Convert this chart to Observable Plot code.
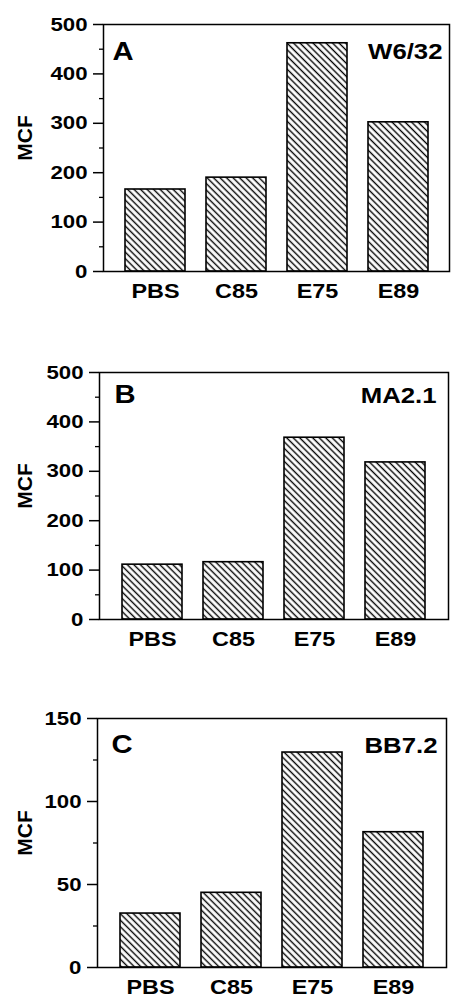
<!DOCTYPE html>
<html><head><meta charset="utf-8">
<script src="https://cdn.jsdelivr.net/npm/d3@7"></script>
<script src="https://cdn.jsdelivr.net/npm/@observablehq/plot@0.6"></script>
<style>
body{margin:0;background:#fff;width:451px;}
#chart svg{display:block}
</style>
</head><body>
<svg width="0" height="0" style="position:absolute">
  <defs>
    <pattern id="hatch" patternUnits="userSpaceOnUse" width="10" height="4.6" patternTransform="rotate(45)">
      <rect width="10" height="4.6" fill="#fff"/>
      <line x1="0" y1="2.3" x2="10" y2="2.3" stroke="#000" stroke-width="1.4"/>
    </pattern>
  </defs>
</svg>
<div id="chart"></div>
<script>
// ---- data ----
const categories = ["PBS", "C85", "E75", "E89"];
const valuesA = [166, 190, 462, 302];
const valuesB = [111, 116, 368, 318];
const valuesC = [32.5, 45, 129.5, 81.5];
const panelLetters = ["A", "B", "C"];
const antibodies = ["W6/32", "MA2.1", "BB7.2"];
const yMax = [500, 500, 150];
const majorTicksA = [0, 100, 200, 300, 400, 500];
const minorTicksA = [50, 150, 250, 350, 450];
const majorTicksB = [0, 100, 200, 300, 400, 500];
const minorTicksB = [50, 150, 250, 350, 450];
const majorTicksC = [0, 50, 100, 150];
const minorTicksC = [25, 75, 125];
const yLabel = "MCF";

// ---- layout ----
const layout = [
  {height: 330, mt: 24, mb: 59, ml: 103, mr: 2, lDx: 9, lDy: 18, aDx: -7, aDy: 19},
  {height: 330, mt: 42, mb: 41, ml: 99, mr: 3, lDx: 15, lDy: 13, aDx: -12, aDy: 15},
  {height: 336, mt: 58, mb: 29, ml: 97, mr: 5, lDx: 14, lDy: 17, aDx: -9, aDy: 19}
];
const panels = [
  {values: valuesA, major: majorTicksA, minor: minorTicksA},
  {values: valuesB, major: majorTicksB, minor: minorTicksB},
  {values: valuesC, major: majorTicksC, minor: minorTicksC}
];
const FONT = "'Liberation Sans', Arial, Helvetica, sans-serif";
const container = document.getElementById("chart");

panels.forEach((p, i) => {
  const L = layout[i];
  const data = categories.map((c, j) => ({cat: c, value: p.values[j]}));
  const svg = Plot.plot({
    width: 451,
    height: L.height,
    marginTop: L.mt,
    marginBottom: L.mb,
    marginLeft: L.ml,
    marginRight: L.mr,
    style: {fontFamily: FONT, background: "#fff", color: "#000", overflow: "visible"},
    x: {domain: categories, padding: 0.26, label: null},
    y: {domain: [0, yMax[i]], label: null},
    marks: [
      Plot.barY(data, {x: "cat", y: "value", fill: "url(#hatch)", stroke: "#000", strokeWidth: 1.6}),
      Plot.frame({stroke: "#000", strokeWidth: 1.5}),
      Plot.axisY({ticks: p.major, tickSize: 10, tickPadding: 6, fontSize: 19, fontWeight: "bold", label: null, strokeWidth: 1.5}),
      Plot.axisY({ticks: p.minor, tickSize: 4, text: null, label: null, strokeWidth: 1.3}),
      Plot.axisX({tickSize: 0, tickPadding: 12, fontSize: 20, fontWeight: "bold", label: null}),
      Plot.text([panelLetters[i]], {frameAnchor: "top-left", textAnchor: "start", lineAnchor: "top", dx: L.lDx, dy: L.lDy, fontSize: 25, fontWeight: "bold"}),
      Plot.text([antibodies[i]], {frameAnchor: "top-right", textAnchor: "end", lineAnchor: "top", dx: L.aDx, dy: L.aDy, fontSize: 22, fontWeight: "bold"}),
      Plot.text([yLabel], {frameAnchor: "left", rotate: -90, textAnchor: "middle", lineAnchor: "middle", dx: -(L.ml - 25), dy: -10, fontSize: 21, fontWeight: "bold"})
    ]
  });
  container.appendChild(svg);
  svg.querySelectorAll("text").forEach(t => {
    if (t.textContent === yLabel) return;
    const len = t.getComputedTextLength();
    if (!(len > 0)) return;
    t.setAttribute("textLength", (len * 1.17).toFixed(1));
    t.setAttribute("lengthAdjust", "spacingAndGlyphs");
  });
});
</script>
</body></html>
